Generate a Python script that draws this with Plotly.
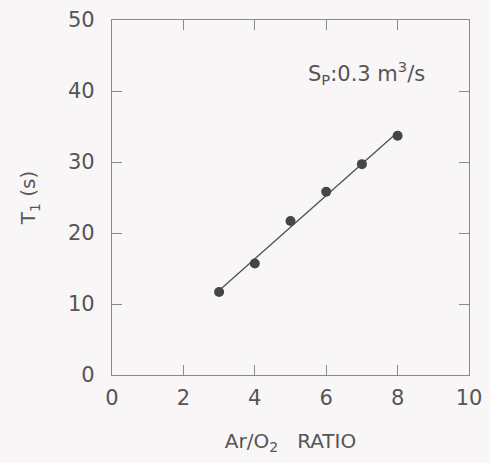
import numpy as np
import plotly.graph_objects as go

ratio = [3, 4, 5, 6, 7, 8]
t1 = [11.7, 15.7, 21.7, 25.8, 29.7, 33.7]
x_ticks = [0, 2, 4, 6, 8, 10]
y_ticks = [0, 10, 20, 30, 40, 50]

coef = np.polyfit(ratio, t1, 1)
fit_x = [ratio[0], ratio[-1]]
fit_y = list(np.polyval(coef, fit_x))

FONT = "DejaVu Sans"
GRAY = "#555555"
AX = "#8a8a8a"
BG = "#f9f6f7"

fig = go.Figure()
fig.add_trace(go.Scatter(x=fit_x, y=fit_y, mode="lines",
                         line=dict(color="#505050", width=1.3), hoverinfo="skip"))
fig.add_trace(go.Scatter(x=ratio, y=t1, mode="markers",
                         marker=dict(color="#454545", size=10)))

axis_common = dict(showgrid=False, zeroline=False, showline=True, linecolor=AX, linewidth=1.2,
                   mirror="ticks", ticks="inside", ticklen=10, tickcolor=AX, tickwidth=1.2,
                   automargin=False,
                   tickfont=dict(family=FONT, size=21, color=GRAY))

fig.update_layout(
    width=490, height=463,
    margin=dict(l=112, r=21, t=20, b=88),
    paper_bgcolor=BG, plot_bgcolor=BG,
    showlegend=False,
    xaxis=dict(range=[0, 10], tickvals=x_ticks, ticklabelstandoff=4, **axis_common,
               title=dict(text="Ar/O<sub>2</sub>   RATIO", font=dict(family=FONT, size=20, color=GRAY), standoff=24)),
    yaxis=dict(range=[0, 50], tickvals=y_ticks, ticklabelstandoff=12, **axis_common,
               title=dict(text="T<sub>1</sub> (s)", font=dict(family=FONT, size=20, color=GRAY), standoff=26)),
    annotations=[dict(x=0.882, y=0.85, xref="paper", yref="paper", xanchor="right", yanchor="middle",
                      text="S<sub>P</sub>:0.3 m<sup>3</sup>/s", showarrow=False,
                      font=dict(family=FONT, size=21, color=GRAY))],
)
fig.write_html("out.html", config={"displayModeBar": False},
               post_script="document.body.style.margin='0';document.body.style.background='%s';" % BG)
